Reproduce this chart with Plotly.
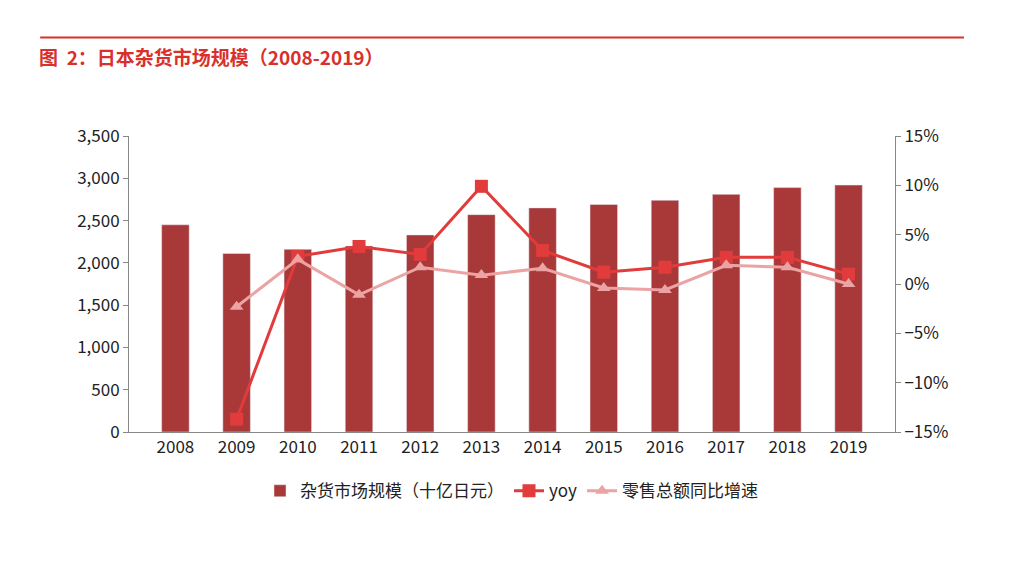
import plotly.graph_objects as go

years = ["2008", "2009", "2010", "2011", "2012", "2013", "2014", "2015", "2016", "2017", "2018", "2019"]
market = [2450, 2110, 2160, 2200, 2330, 2570, 2650, 2690, 2740, 2810, 2890, 2920]
yoy = [None, -13.7, 2.8, 3.8, 3.0, 9.9, 3.4, 1.2, 1.7, 2.7, 2.7, 1.0]
retail = [None, -2.3, 2.5, -1.1, 1.7, 0.9, 1.6, -0.4, -0.6, 1.9, 1.7, 0.0]

font = "Noto Sans CJK SC"

fig = go.Figure()
fig.add_trace(go.Bar(x=years, y=market, name="杂货市场规模（十亿日元）",
                     marker_color="#A93838", width=0.45))
fig.add_trace(go.Scatter(x=years, y=yoy, name="yoy", yaxis="y2", mode="lines+markers",
                         line=dict(color="#E23B3B", width=3),
                         marker=dict(symbol="square", size=13, color="#E23B3B")))
fig.add_trace(go.Scatter(x=years, y=retail, name="零售总额同比增速", yaxis="y2", mode="lines+markers",
                         line=dict(color="#EBA3A3", width=3),
                         marker=dict(symbol="triangle-up", size=12, color="#EBA3A3")))

fig.update_layout(
    width=1012, height=574, paper_bgcolor="white", plot_bgcolor="white",
    margin=dict(l=121, r=125, t=128, b=150),
    font=dict(family=font, size=17, color="#222"),
    xaxis=dict(showline=True, linecolor="#888", ticks="outside", ticklen=0,
               showgrid=False),
    yaxis=dict(range=[0, 3500], dtick=500, tickformat=",", showline=True,
               linecolor="#888", ticks="outside", tickcolor="#888", showgrid=False),
    yaxis2=dict(range=[-15, 15], dtick=5, ticksuffix="%", overlaying="y", side="right",
                showline=True, linecolor="#888", ticks="outside", tickcolor="#888",
                showgrid=False, zeroline=False),
    legend=dict(orientation="h", x=0.5, xanchor="center", y=-0.2, yanchor="middle",
                font=dict(size=17)),
    bargap=0.5,
    shapes=[dict(type="line", xref="paper", yref="paper", x0=-0.116, x1=1.09,
                 y0=1.333, y1=1.333, line=dict(color="#D9302B", width=2))],
    annotations=[dict(text="<b>图  2：日本杂货市场规模（2008-2019）</b>", xref="paper", yref="paper",
                      x=-0.12, y=1.27, xanchor="left", yanchor="middle", showarrow=False,
                      font=dict(color="#D9302B", size=19, family=font))],
)
fig.write_html("out.html")
